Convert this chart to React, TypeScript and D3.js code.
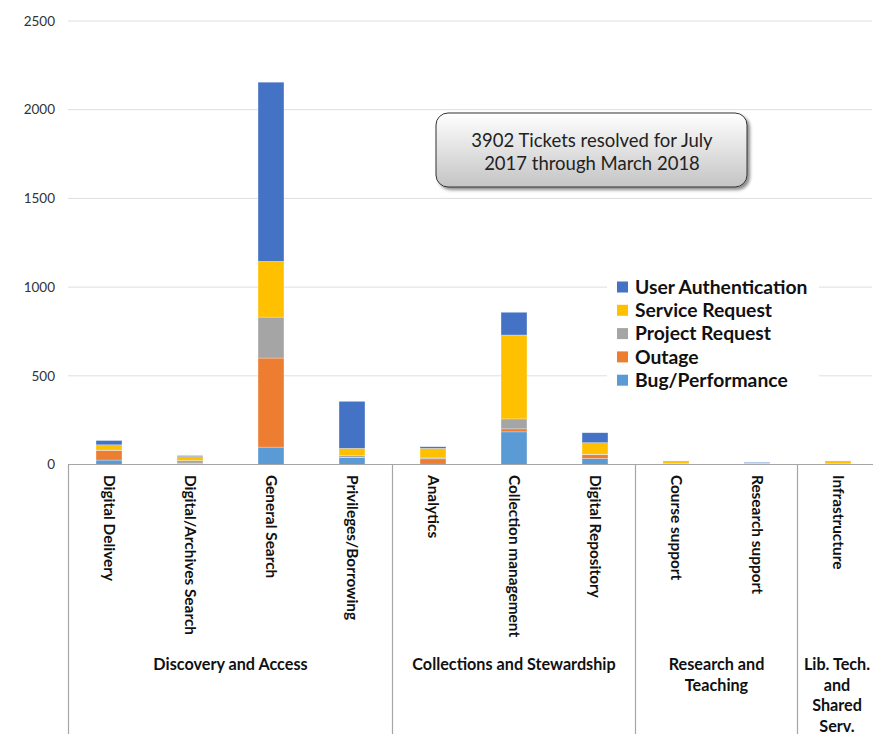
import React from "react";
import * as d3 from "d3";

const categories = [
  "Digital Delivery",
  "Digital/Archives Search",
  "General Search",
  "Privileges/Borrowing",
  "Analytics",
  "Collection management",
  "Digital Repository",
  "Course support",
  "Research support",
  "Infrastructure",
];

const groups = [
  { name: ["Discovery and Access"], count: 4 },
  { name: ["Collections and Stewardship"], count: 3 },
  { name: ["Research and", "Teaching"], count: 2 },
  { name: ["Lib. Tech.", "and", "Shared", "Serv."], count: 1 },
];

const seriesNames = ["Bug/Performance", "Outage", "Project Request", "Service Request", "User Authentication"];
const bugPerformance = [25, 6, 98, 39, 2, 184, 34, 2, 6, 2];
const outage = [54, 2, 502, 2, 30, 17, 21, 2, 0, 1];
const projectRequest = [2, 15, 231, 11, 5, 56, 3, 1, 1, 1];
const serviceRequest = [30, 22, 314, 39, 54, 473, 65, 12, 1, 13];
const userAuthentication = [24, 5, 1010, 265, 9, 128, 56, 3, 4, 3];
const seriesColors = ["#5B9BD5", "#ED7D31", "#A5A5A5", "#FFC000", "#4472C4"];
const yTicks = [0, 500, 1000, 1500, 2000, 2500];
const legendOrder = ["User Authentication", "Service Request", "Project Request", "Outage", "Bug/Performance"];
const annotation = ["3902 Tickets resolved for July", "2017 through March 2018"];

const W = 873;
const H = 734;
const FONT = "Lato, 'Open Sans', sans-serif";

export default function App() {
  const y = d3.scaleLinear().domain([0, 2500]).range([464.5, 21]);
  const x = d3
    .scaleBand<string>()
    .domain(categories)
    .range([68.5, 878.5])
    .paddingInner(0.68)
    .paddingOuter(0.34);

  const rows = categories.map((c, i) => ({
    cat: c,
    [seriesNames[0]]: bugPerformance[i],
    [seriesNames[1]]: outage[i],
    [seriesNames[2]]: projectRequest[i],
    [seriesNames[3]]: serviceRequest[i],
    [seriesNames[4]]: userAuthentication[i],
  }));
  const stacked = d3.stack<any>().keys(seriesNames)(rows);
  const color = d3.scaleOrdinal<string, string>().domain(seriesNames).range(seriesColors);

  const step = x.step();
  const left = 68.5;
  let acc = 0;
  const groupBounds = groups.map((g) => {
    const x0 = left + acc * step;
    acc += g.count;
    const x1 = left + acc * step;
    return { ...g, x0, x1 };
  });
  const separators = [left, ...groupBounds.map((g) => g.x1)];

  return (
    <svg
      width={W}
      height={H}
      style={{ position: "absolute", left: 0, top: 0, background: "#fff" }}
      fontFamily={FONT}
    >
      <defs>
        <linearGradient id="boxGrad" x1="0" y1="0" x2="0" y2="1">
          <stop offset="0%" stopColor="#ffffff" />
          <stop offset="100%" stopColor="#c4c4c4" />
        </linearGradient>
        <filter id="shadow" x="-10%" y="-20%" width="130%" height="160%">
          <feDropShadow dx="2.5" dy="2.5" stdDeviation="1.5" floodColor="#000" floodOpacity="0.45" />
        </filter>
      </defs>

      {/* gridlines */}
      {yTicks.map((t) => (
        <g key={t}>
          {t > 0 && (
            <line x1={68} x2={872} y1={y(t)} y2={y(t)} stroke="#dedede" strokeWidth={1} />
          )}
          <text
            x={55}
            y={y(t)}
            dy="0.35em"
            textAnchor="end"
            fontSize={13.5}
            fill="#333"
          >
            {t}
          </text>
        </g>
      ))}

      {/* bars */}
      {stacked.map((s) => (
        <g key={s.key} fill={color(s.key)}>
          {s.map((d, i) =>
            d[1] - d[0] > 0 ? (
              <rect
                key={i}
                x={x(categories[i])}
                width={x.bandwidth()}
                y={y(d[1])}
                height={y(d[0]) - y(d[1])}
                stroke="#ffffff"
                strokeOpacity={0.45}
                strokeWidth={0.6}
              />
            ) : null
          )}
        </g>
      ))}

      {/* axis line and separators */}
      <line x1={68} x2={873} y1={464.5} y2={464.5} stroke="#a6a6a6" strokeWidth={1.2} />
      {separators.map((sx, i) => (
        <line key={i} x1={sx} x2={sx} y1={464.5} y2={H} stroke="#a6a6a6" strokeWidth={1.2} />
      ))}

      {/* category labels */}
      {categories.map((c) => (
        <text
          key={c}
          transform={`translate(${(x(c) as number) + x.bandwidth() / 2},475) rotate(90)`}
          dy="0.35em"
          fontSize={15.4}
          fontWeight={700}
          fill="#111"
        >
          {c}
        </text>
      ))}

      {/* group labels */}
      {groupBounds.map((g, gi) => {
        const cx = (g.x0 + g.x1) / 2 + (gi === 3 ? -1 : 0);
        return (
          <text
            key={gi}
            x={cx}
            y={670}
            textAnchor="middle"
            fontSize={16.2}
            fontWeight={700}
            fill="#111"
          >
            {g.name.map((ln, li) => (
              <tspan key={li} x={cx} dy={li === 0 ? 0 : 20.5}>
                {ln}
              </tspan>
            ))}
          </text>
        );
      })}

      {/* annotation box */}
      <rect
        x={436}
        y={113}
        width={311}
        height={74}
        rx={12}
        fill="url(#boxGrad)"
        stroke="#333"
        strokeWidth={1}
        filter="url(#shadow)"
      />
      {annotation.map((ln, i) => (
        <text key={i} x={592} y={146.5 + i * 23} textAnchor="middle" fontSize={18.5} fill="#222">
          {ln}
        </text>
      ))}

      {/* legend */}
      <rect x={607} y={274} width={212} height={120} fill="#fff" />
      {legendOrder.map((n, i) => (
        <g key={n} transform={`translate(617,${287 + i * 23.3})`}>
          <rect x={0} y={-5.5} width={11} height={11} fill={color(n)} />
          <text x={18} y={0} dy="0.35em" fontSize={19.3} fontWeight={700} fill="#111">
            {n}
          </text>
        </g>
      ))}
    </svg>
  );
}
